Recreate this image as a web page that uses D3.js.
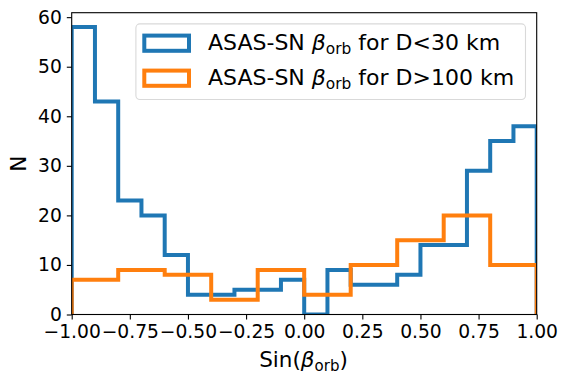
<!DOCTYPE html>
<html><head><meta charset="utf-8">
<script src="https://cdn.jsdelivr.net/npm/d3@7"></script>
<style>body{margin:0;background:#fff}svg{display:block}text{font-family:"DejaVu Sans",sans-serif}</style>
</head><body>
<script>
const blueEdges = d3.range(21).map(i => -1 + i * 0.1);
const blueCounts = [58, 43, 23, 20, 12, 4, 4, 5, 5, 7, 0, 9, 6, 6, 8, 14, 14, 29, 35, 38];
const orangeEdges = d3.range(11).map(i => -1 + i * 0.2);
const orangeCounts = [7, 9, 8, 3, 9, 4, 10, 15, 20, 10];
const xTicks = [-1, -0.75, -0.5, -0.25, 0, 0.25, 0.5, 0.75, 1];
const yTicks = [0, 10, 20, 30, 40, 50, 60];
const seriesNames = ["for D<30 km", "for D>100 km"];
const colors = ["#1f77b4", "#ff7f0e"];

const W = 568, H = 383;
const m = {left: 71.7, right: 536.7, top: 12.7, bottom: 314.5};
const svg = d3.select("body").append("svg").attr("width", W).attr("height", H);
const x = d3.scaleLinear().domain([-1, 1]).range([m.left, m.right]);
const y = d3.scaleLinear().domain([0, 60.9]).range([m.bottom, m.top]);

svg.append("clipPath").attr("id", "clip").append("rect")
  .attr("x", m.left).attr("y", m.top).attr("width", m.right - m.left).attr("height", m.bottom - m.top);

function stepPts(edges, counts) {
  const pts = [[edges[0], 0]];
  counts.forEach((c, i) => { pts.push([edges[i], c]); pts.push([edges[i + 1], c]); });
  pts.push([edges[edges.length - 1], 0]);
  return pts;
}
const line = d3.line().x(d => x(d[0])).y(d => y(d[1]));
const g = svg.append("g").attr("clip-path", "url(#clip)");
[[blueEdges, blueCounts], [orangeEdges, orangeCounts]].forEach(([e, c], i) => {
  g.append("path").attr("d", line(stepPts(e, c))).attr("fill", "none")
    .attr("stroke", colors[i]).attr("stroke-width", 4).attr("stroke-linejoin", "miter");
});

// axes
const fmt = d => (d < 0 ? "\u2212" : "") + Math.abs(d).toFixed(2);
const xAxis = svg.append("g").attr("transform", `translate(0,${m.bottom})`)
  .call(d3.axisBottom(x).tickValues(xTicks).tickFormat(fmt).tickSizeOuter(0).tickSize(4.9).tickPadding(4.9));
const yAxis = svg.append("g").attr("transform", `translate(${m.left},0)`)
  .call(d3.axisLeft(y).tickValues(yTicks).tickSizeOuter(0).tickSize(4.9).tickPadding(4.9));
[xAxis, yAxis].forEach(a => {
  a.selectAll("text").attr("font-size", 18.7).attr("fill", "#000").attr("font-family", "DejaVu Sans");
  a.selectAll("line").attr("stroke", "#000").attr("stroke-width", 1.1);
  a.select(".domain").remove();
});
svg.append("rect").attr("x", m.left).attr("y", m.top).attr("width", m.right - m.left).attr("height", m.bottom - m.top)
  .attr("fill", "none").attr("stroke", "#000").attr("stroke-width", 1.1);

// labels
const FS = 21.5, SUB = 15;
const xl = svg.append("text").attr("x", 303.5).attr("y", 367.3).attr("text-anchor", "middle")
  .attr("font-size", FS).attr("fill", "#000");
xl.append("tspan").text("Sin(");
xl.append("tspan").attr("font-style", "italic").text("\u03b2");
xl.append("tspan").attr("font-size", SUB).attr("dy", 3.8).text("orb");
xl.append("tspan").attr("dy", -3.8).text(")");
svg.append("text").attr("transform", `translate(26.3,${(m.top + m.bottom) / 2}) rotate(-90)`)
  .attr("text-anchor", "middle").attr("font-size", FS).attr("fill", "#000").text("N");

// legend
const LFS = 22, LSUB = 15.4;
const lg = svg.append("g");
lg.append("rect").attr("x", 135.9).attr("y", 23.9).attr("width", 389.6).attr("height", 75.6).attr("rx", 4)
  .attr("fill", "#fff").attr("fill-opacity", 0.8).attr("stroke", "#d9d9d9").attr("stroke-width", 1.1);
seriesNames.forEach((s, i) => {
  const yy = 43.2 + i * 35;
  lg.append("rect").attr("x", 144.3).attr("y", yy - 7.6).attr("width", 44.7).attr("height", 15.2)
    .attr("fill", "none").attr("stroke", colors[i]).attr("stroke-width", 4);
  const t = lg.append("text").attr("x", 208).attr("y", yy + 7.2).attr("font-size", LFS).attr("fill", "#000");
  t.append("tspan").text("ASAS-SN ");
  t.append("tspan").attr("font-style", "italic").text("\u03b2");
  t.append("tspan").attr("font-size", LSUB).attr("dy", 3.9).text("orb");
  t.append("tspan").attr("dy", -3.9).text(" " + s);
});
</script>
</body></html>
